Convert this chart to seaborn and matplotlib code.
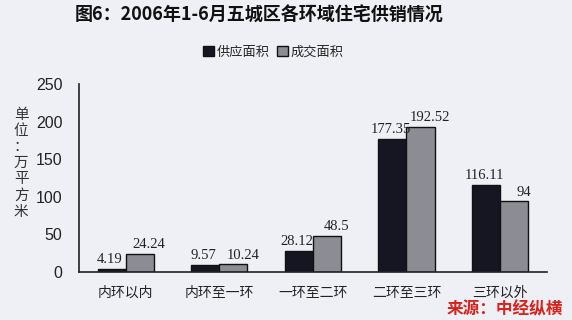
import numpy as np
import pandas as pd
import matplotlib
matplotlib.use("Agg")
import matplotlib.pyplot as plt
from matplotlib.patches import Patch
import seaborn as sns

categories = ["内环以内", "内环至一环", "一环至二环", "二环至三环", "三环以外"]
supply = [4.19, 9.57, 28.12, 177.35, 116.11]
sold = [24.24, 10.24, 48.5, 192.52, 94]
series_names = ["供应面积", "成交面积"]
yticks = [0, 50, 100, 150, 200, 250]

df = pd.DataFrame({
    "region": categories * 2,
    "value": supply + sold,
    "series": [series_names[0]] * 5 + [series_names[1]] * 5,
})

sns.set_style("white")
plt.rcParams['font.family'] = ['Noto Sans CJK SC', 'DejaVu Sans']

bg = "#eef0f6"
colors = ["#161622", "#8c8c94"]
fig = plt.figure(figsize=(5.72, 3.20), dpi=100, facecolor=bg)
ax = fig.add_axes([0.138, 0.15, 0.818, 0.5875])
ax.set_facecolor(bg)

sns.barplot(data=df, x="region", y="value", hue="series", order=categories,
            hue_order=series_names, palette=colors,
            edgecolor="#111111", linewidth=1.0, width=0.6, saturation=1,
            legend=False, ax=ax)

# the second series' labels sit a touch to the right, as in the source
for i, cont in enumerate(ax.containers):
    labels = ["%g" % v for v in cont.datavalues]
    texts = ax.bar_label(cont, labels=labels, padding=2, fontsize=10.5,
                         family="Liberation Serif", color="#222222")
    shift = 0.1 if i == 1 else -0.02
    for t in texts:
        x, y = t.xy
        t.xy = (x + shift, y)

ax.set_ylim(0, 250)
ax.set_xlim(-0.5, 4.5)
ax.set_yticks(yticks)
ax.set_yticklabels([str(t) for t in yticks], fontsize=11.5, family="Liberation Sans",
                   color="#222222")
ax.tick_params(axis="y", direction="in", length=4, width=1, pad=12)
ax.set_xticks(range(len(categories)))
ax.set_xticklabels(categories, fontsize=10, color="#222222")
ax.tick_params(axis="x", length=0, pad=10)
ax.set_xticks(np.arange(0.5, 4.6, 1), minor=True)
ax.tick_params(axis="x", which="minor", direction="inout", length=6, width=1)
ax.set_xlabel("")
ax.set_ylabel("")
for s in ["top", "right"]:
    ax.spines[s].set_visible(False)
for s in ["left", "bottom"]:
    ax.spines[s].set_color("#222222")
    ax.spines[s].set_linewidth(1.2)

fig.text(0.037, 0.49, "单\n位\n：\n万\n平\n方\n米", fontsize=10.5, color="#333333",
         ha="center", va="center", linespacing=1.2)

fig.text(0.453, 0.952, "图6：2006年1-6月五城区各环域住宅供销情况", fontsize=13,
         fontweight="bold", ha="center", va="center", color="#111111")

handles = [Patch(facecolor=colors[0], edgecolor="#111111"),
           Patch(facecolor=colors[1], edgecolor="#111111")]
fig.legend(handles, series_names, loc="center", bbox_to_anchor=(0.478, 0.8375),
           ncol=2, frameon=False, fontsize=9.5, handlelength=0.8,
           handleheight=0.8, handletextpad=0.2, columnspacing=0.6)

fig.text(0.985, 0.032, "来源：中经纵横", fontsize=12, fontweight="bold",
         style="italic", color="#d8231c", ha="right", va="center")

fig.savefig("out.png", dpi=100, facecolor=bg)
